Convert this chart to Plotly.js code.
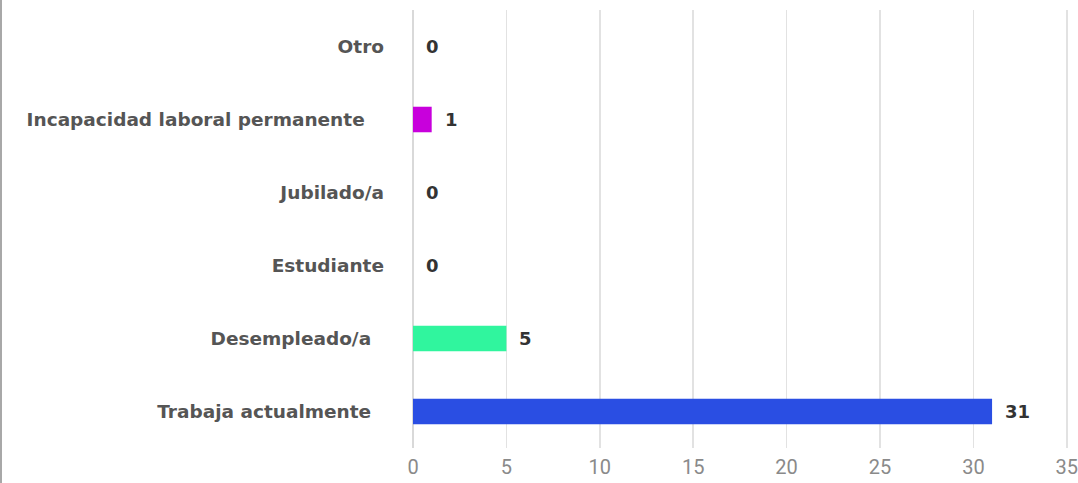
<!DOCTYPE html>
<html>
<head>
<meta charset="utf-8">
<script src="https://cdn.plot.ly/plotly-3.0.1.min.js"></script>
<style>
  html, body { margin: 0; padding: 0; background: #fff; }
  #chart { width: 1078px; height: 483px; box-sizing: border-box; border-left: 2px solid #a8a8a8; }
</style>
</head>
<body>
<div id="chart"></div>
<script>
// Data (bottom to top)
const categories = ["Trabaja actualmente", "Desempleado/a", "Estudiante", "Jubilado/a", "Incapacidad laboral permanente", "Otro"];
const tickLabels = ["Trabaja actualmente\u00a0\u00a0", "Desempleado/a\u00a0\u00a0", "Estudiante", "Jubilado/a", "Incapacidad laboral permanente\u00a0\u00a0\u00a0", "Otro"];
const values = [31, 5, 0, 0, 1, 0];
const barColors = ["#2a4ee3", "#30f59e", "#f2a33a", "#3fb5e8", "#c800dc", "#888888"];
const xTicks = [0, 5, 10, 15, 20, 25, 30, 35];

const trace = {
  type: "bar",
  orientation: "h",
  x: values,
  y: categories,
  marker: { color: barColors },
  width: 0.35,
  hoverinfo: "x+y"
};

const annotations = values.map((v, i) => ({
  x: v, y: categories[i], xref: "x", yref: "y",
  text: String(v), showarrow: false, xanchor: "left", xshift: 11,
  font: { family: "DejaVu Sans, Arial, sans-serif", size: 18, color: "#333", weight: "bold" }
}));

const layout = {
  width: 1076, height: 483,
  margin: { l: 411, r: 0, t: 10, b: 35, pad: 0 },
  paper_bgcolor: "#fff", plot_bgcolor: "#fff",
  showlegend: false,
  xaxis: {
    range: [0, 35.6],
    tickvals: xTicks,
    ticktext: xTicks.map(String),
    showgrid: true, gridcolor: "#e2e2e2", gridwidth: 1.5,
    zeroline: true, zerolinecolor: "#d9d9d9", zerolinewidth: 1.5,
    showline: false, ticks: "",
    ticklabelstandoff: 5,
    ticklabeloverflow: "allow",
    tickfont: { family: "Liberation Sans Narrow, Roboto, Arial, sans-serif", size: 20, color: "#8a8a8a" },
    fixedrange: true
  },
  yaxis: {
    type: "category",
    tickvals: categories,
    ticktext: tickLabels,
    showgrid: false, zeroline: false, showline: false, ticks: "",
    ticklabelstandoff: 28,
    tickfont: { family: "DejaVu Sans, Arial, sans-serif", size: 18.5, color: "#555", weight: "bold" },
    fixedrange: true
  },
  annotations: annotations,
  bargap: 0.65
};

Plotly.newPlot("chart", [trace], layout, { displayModeBar: false, staticPlot: true });
</script>
</body>
</html>
